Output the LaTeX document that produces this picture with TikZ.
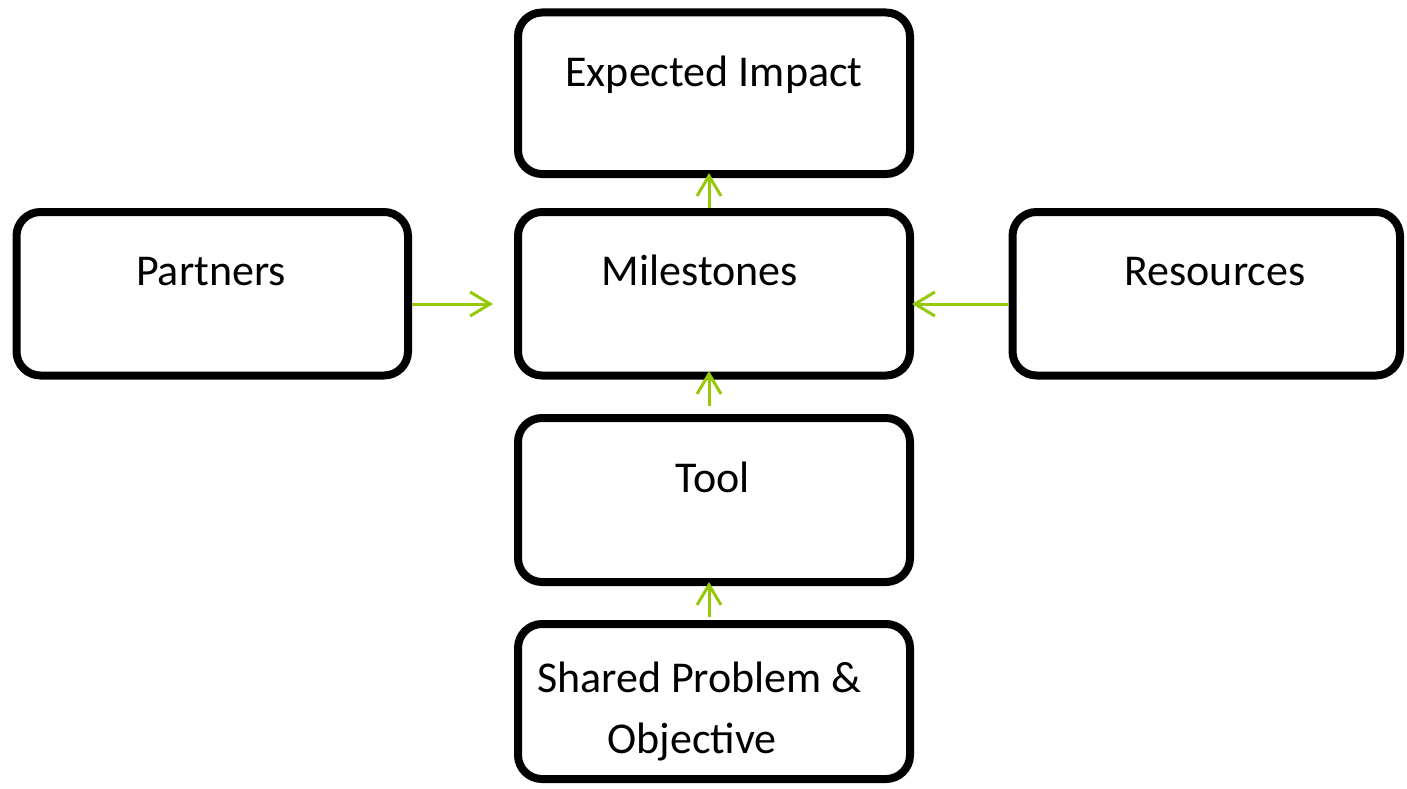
\documentclass[tikz,border=0pt]{standalone}
\usepackage{fontspec}
\setmainfont{Carlito}
\usetikzlibrary{arrows.meta,calc}
\definecolor{arrowgreen}{RGB}{150,200,10}
\begin{document}
\begin{tikzpicture}[x=1pt,y=-1pt,
  box/.style={draw=black,line width=8pt,rounded corners=24pt,fill=white,inner sep=0pt,minimum width=392pt,minimum height=162pt},
  lbl/.style={font=\fontsize{44}{52}\selectfont,anchor=base,inner sep=0pt},
  conn/.style={draw=arrowgreen,line width=3pt,-{Straight Barb[length=20pt,width=24pt,line width=3pt]}}]
\useasboundingbox (0,0) rectangle (1407,789);
\node[box,minimum height=161.5pt] (impact) at (714,93.25) {};
\node[box,minimum height=163.5pt] (mile) at (714,293.75) {};
\node[box,minimum width=391.5pt,minimum height=163.5pt] (partners) at (212.25,293.75) {};
\node[box,minimum width=387.5pt,minimum height=163.5pt] (resources) at (1206.25,293.75) {};
\node[box,minimum height=164pt] (tool) at (714,500) {};
\node[box,minimum height=155pt] (shared) at (714,701.5) {};
\node[lbl] (timpact) at (714,87) {Expected Impact};
\node[lbl] (tmile) at (700,285) {Milestones};
\node[lbl] (tpartners) at (211,285) {Partners};
\node[lbl] (tresources) at (1215,285) {Resources};
\node[lbl] (ttool) at (713,492) {Tool};
\node[lbl] (tshared1) at (699.5,692) {Shared Problem \&};
\node[lbl] (tshared2) at (692,753) {Objective};
\draw[conn,shorten <=0pt,shorten >=-5pt] ([xshift=-5pt]mile.north) -- ([xshift=-5pt]impact.south);
\draw[conn,shorten <=8pt,shorten >=-8.5pt] ([xshift=-5pt]tool.north) -- ([xshift=-5pt]mile.south);
\draw[conn,shorten <=3pt,shorten >=-4pt] ([xshift=-5pt]shared.north) -- ([xshift=-5pt]tool.south);
\draw[conn,shorten <=0pt,shorten >=21pt] ([yshift=-10.25pt]partners.east) -- ([yshift=-10.25pt]mile.west);
\draw[conn,shorten <=0pt,shorten >=-2pt] ([yshift=-10.25pt]resources.west) -- ([yshift=-10.25pt]mile.east);
\end{tikzpicture}
\end{document}
